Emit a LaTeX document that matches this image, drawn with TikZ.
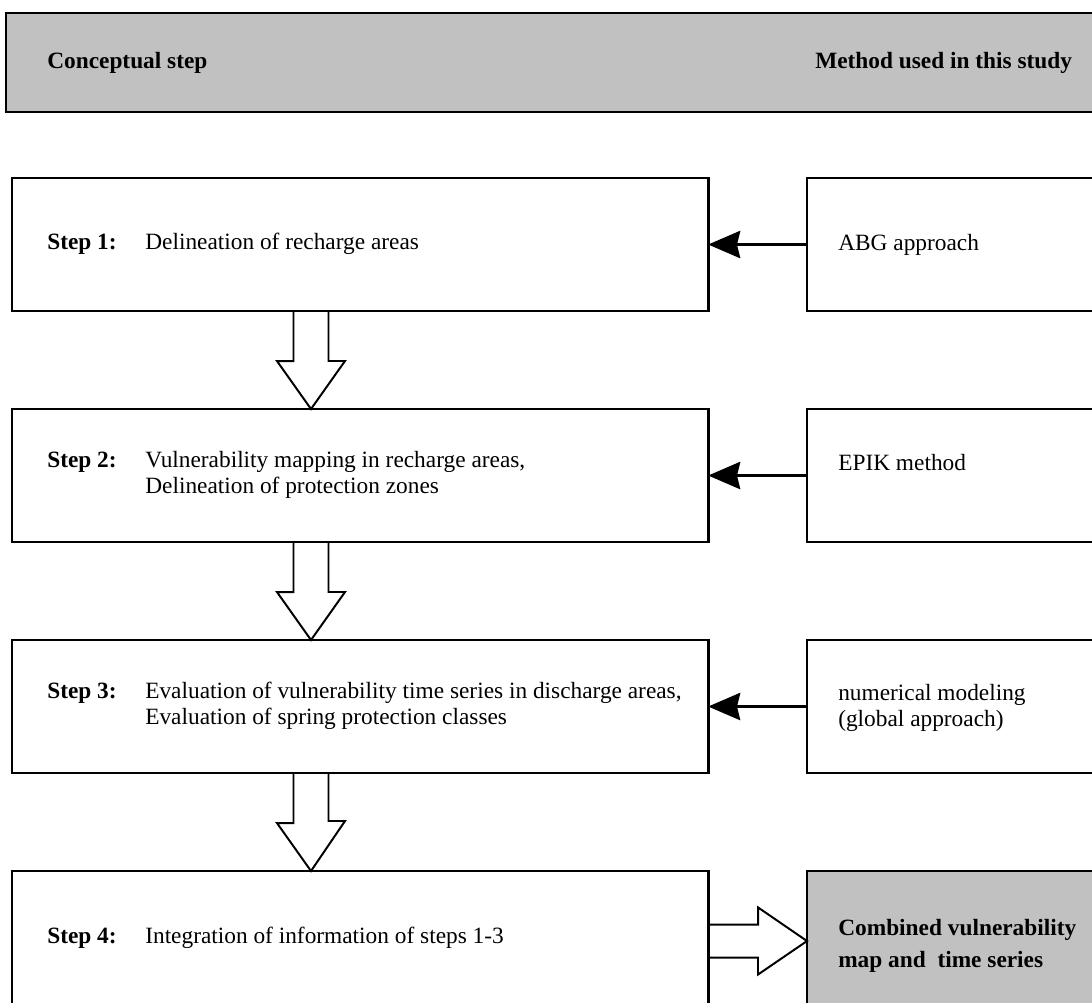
\documentclass[tikz,border=0pt]{standalone}
\usepackage{fontspec}
\setmainfont{Liberation Serif}
\usetikzlibrary{arrows.meta,calc}
\definecolor{boxgray}{RGB}{193,193,193}
\begin{document}
\begin{tikzpicture}[x=0.025cm,y=-0.025cm,
  box/.style={draw, line width=1.9pt, inner sep=0pt, outer sep=0pt, anchor=north west},
  lbox/.style={box, minimum width=17.4cm, minimum height=3.325cm},
  rbox/.style={box, minimum width=8cm, minimum height=3.325cm},
  txt/.style={inner sep=0pt, anchor=west, font=\fontsize{16.6pt}{18.45pt}\selectfont},
  fillarrow/.style={line width=2.2pt, -{Stealth[length=0.8cm,width=0.68cm,inset=0.08cm]}},
  hollow/.style={line width=1.4pt, line join=miter}]
\clip (0,0) rectangle (1092,1002);
\useasboundingbox (0,0) rectangle (1092,1002);
\fill[white] (0,0) rectangle (1092,1002);
% header
\node[box, fill=boxgray, minimum width=27.6cm, minimum height=2.475cm] (hdr) at (6,13) {};
\node[txt] (h1) at (47,63) {\textbf{Conceptual step}};
\node[txt] (h2) at (815,63) {\textbf{Method used in this study}};
% left boxes
\node[lbox] (s1) at (12,178) {};
\node[lbox] (s2) at (12,409) {};
\node[lbox] (s3) at (12,640) {};
\node[lbox, minimum height=3.5cm] (s4) at (12,871) {};
% right boxes
\node[rbox] (m1) at (807,178) {};
\node[rbox] (m2) at (807,409) {};
\node[rbox] (m3) at (807,640) {};
\node[rbox, minimum height=3.5cm, fill=boxgray] (m4) at (807,871) {};
% texts left
\node[txt] (t1) at (47,244.5) {\begin{tabular}{@{}p{2.45cm}@{}l@{}}\textbf{Step 1:} & Delineation of recharge areas\end{tabular}};
\node[txt] (t2) at (47,475.5) {\begin{tabular}{@{}p{2.45cm}@{}l@{}}\textbf{Step 2:} & Vulnerability mapping in recharge areas,\\ & Delineation of protection zones\end{tabular}};
\node[txt] (t3) at (47,706.5) {\begin{tabular}{@{}p{2.45cm}@{}l@{}}\textbf{Step 3:} & Evaluation of vulnerability time series in discharge areas,\\ & Evaluation of spring protection classes\end{tabular}};
\node[txt] (t4) at (47,938) {\begin{tabular}{@{}p{2.45cm}@{}l@{}}\textbf{Step 4:} & Integration of information of steps 1-3\end{tabular}};
% texts right
\node[txt] (r1) at (838,244.5) {ABG approach};
\node[txt] (r2) at (838,463) {EPIK method};
\node[txt] (r3) at (838,708) {\begin{tabular}{@{}l@{}}numerical modeling\\(global approach)\end{tabular}};
\node[txt] (r4) at (838,946) {\begin{tabular}{@{}l@{}}\textbf{Combined vulnerability}\\[4.3pt]\textbf{map and\ \ time series}\end{tabular}};
% filled arrows
\draw[fillarrow] (m1.west) -- (s1.east);
\draw[fillarrow] (m2.west) -- (s2.east);
\draw[fillarrow] (m3.west) -- (s3.east);
% hollow arrows down
\coordinate (ax) at (311,0);
\draw[hollow] ($(ax|-s1.south)+(-17.5,0)$) -- ++(0,50) -- ++(-16.5,0) -- (ax|-s2.north) -- ++(34,-48) -- ++(-16.5,0) -- ($(ax|-s1.south)+(17.5,0)$);
\draw[hollow] ($(ax|-s2.south)+(-17.5,0)$) -- ++(0,50) -- ++(-16.5,0) -- (ax|-s3.north) -- ++(34,-48) -- ++(-16.5,0) -- ($(ax|-s2.south)+(17.5,0)$);
\draw[hollow] ($(ax|-s3.south)+(-17.5,0)$) -- ++(0,50) -- ++(-16.5,0) -- ($(ax|-s4.north)+(0,0)$) -- ++(34,-50) -- ++(-16.5,0) -- ($(ax|-s3.south)+(17.5,0)$);
% hollow arrow right
\draw[hollow] ($(s4.east)+(0,-16.5)$) -- ++(50,0) -- ++(0,-17) -- (m4.west) -- ++(-49,33.5) -- ++(0,-17) -- ($(s4.east)+(0,16.5)$);
\end{tikzpicture}
\end{document}
